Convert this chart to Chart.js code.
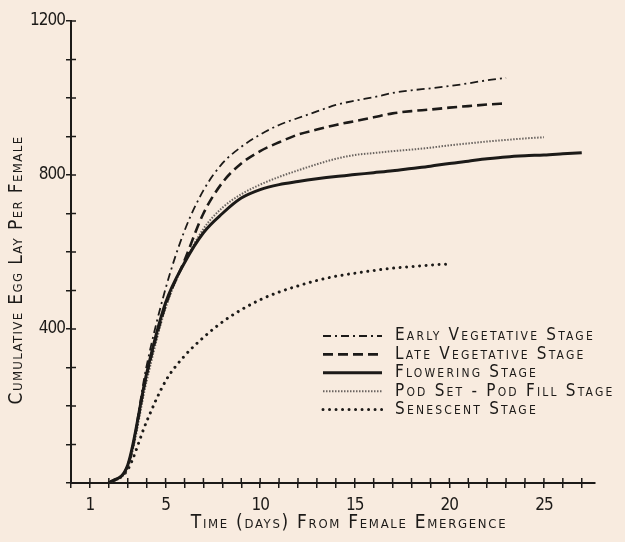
<!DOCTYPE html>
<html><head><meta charset="utf-8">
<script src="https://cdn.jsdelivr.net/npm/chart.js@4/dist/chart.umd.min.js"></script>
<style>html,body{margin:0;padding:0;background:#f8ebdf;overflow:hidden}#wrap{width:625px;height:542px}</style>
</head><body><div id="wrap"><canvas id="c" width="625" height="542"></canvas></div>
<script>
// ---- data ----
const startDay = 2;
const seriesNames = ["Early Vegetative Stage","Late Vegetative Stage","Flowering Stage","Pod Set - Pod Fill Stage","Senescent Stage"];
const earlyVeg  = [0,45,305,505,655,760,830,873,905,930,948,965,982,993,1002,1013,1020,1025,1031,1038,1046,1052];
const lateVeg   = [0,45,280,460,578,700,780,830,862,885,905,918,930,940,950,960,966,970,975,979,983,986];
const flowering = [0,47,285,468,572,650,700,740,762,775,783,790,796,801,806,811,817,823,830,836,842,847,850,852,855,858];
const podSet    = [0,40,265,455,572,660,715,750,775,795,812,828,842,852,857,862,866,871,877,882,887,891,895,898];
const senescent = [0,35,160,265,330,378,418,450,476,496,512,526,537,545,552,558,562,566,569];
const xTickLabels = [1,5,10,15,20,25];
const yTickLabels = [400,800,1200];
const xTitle = "Time (days) From Female Emergence";
const yTitle = "Cumulative Egg Lay Per Female";

const FAM = "'DejaVu Sans Condensed','DejaVu Sans',sans-serif";
const INK = '#1c1a18';
const toPts = arr => arr.map((v,i)=>({x:startDay+i,y:v}));

const styles = [
  {borderDash:[8,4,2,4], borderWidth:1.8, borderColor:INK, borderCapStyle:'butt'},
  {borderDash:[10,5], borderWidth:2.6, borderColor:INK, borderCapStyle:'butt'},
  {borderDash:[], borderWidth:3, borderColor:INK, borderCapStyle:'butt'},
  {borderDash:[1.5,1.5], borderWidth:2, borderColor:'#6a6460', borderCapStyle:'butt'},
  {borderDash:[0.01,6.5], borderWidth:3, borderColor:INK, borderCapStyle:'round'}
];
const seriesData = [earlyVeg, lateVeg, flowering, podSet, senescent];

const paperLegend = {
  id:'paperLegend',
  afterDraw(chart){
    const ctx = chart.ctx;
    const x0 = 323, x1 = 382, tx = 395, y0 = 336, dy = 18.4;
    chart.data.datasets.forEach((ds,i)=>{
      const y = y0 + i*dy;
      ctx.save();
      ctx.strokeStyle = ds.borderColor;
      ctx.lineWidth = ds.borderWidth;
      ctx.lineCap = ds.borderCapStyle;
      ctx.setLineDash(ds.borderDash);
      ctx.beginPath(); ctx.moveTo(x0,y); ctx.lineTo(x1,y); ctx.stroke();
      ctx.setLineDash([]);
      ctx.fillStyle = INK;
      ctx.font = "small-caps 17px " + FAM;
      ctx.letterSpacing = '2.2px';
      ctx.textBaseline = 'middle';
      ctx.fillText(ds.label, tx, y);
      ctx.restore();
    });
  }
};
const crossTicks = {
  id:'crossTicks',
  afterDraw(chart){
    const ctx = chart.ctx, a = chart.chartArea;
    ctx.save(); ctx.strokeStyle = INK; ctx.lineWidth = 1.5;
    const xs = chart.scales.x, ys = chart.scales.y;
    xs.ticks.forEach(t=>{ const p = xs.getPixelForValue(t.value); ctx.beginPath(); ctx.moveTo(p,a.bottom); ctx.lineTo(p,a.bottom-5); ctx.stroke(); });
    ys.ticks.forEach(t=>{ const p = ys.getPixelForValue(t.value); ctx.beginPath(); ctx.moveTo(a.left,p); ctx.lineTo(a.left+5,p); ctx.stroke(); });
    ctx.restore();
  }
};
// hand lettering of the original: widely spaced titles, narrow digits
const lettering = {
  id:'lettering',
  afterLayout(chart){
    Object.values(chart.scales).forEach(s=>{
      if (s._spaced) return;
      const isY = s.id === 'y';
      const origT = s.drawTitle, origL = s.drawLabels;
      s.drawTitle = function(){ const c = this.ctx; c.save(); c.letterSpacing = isY ? '1.4px' : '1.7px';
        if (isY) c.translate(0, 18); else c.translate(16, 0);
        origT.apply(this, arguments); c.restore(); };
      s.drawLabels = function(){ const c = this.ctx; c.save(); c.letterSpacing = '-1px'; origL.apply(this, arguments); c.restore(); };
      s._spaced = true;
    });
  }
};

new Chart(document.getElementById('c'), {
  type:'line',
  data:{ datasets: seriesData.map((d,i)=>Object.assign({label:seriesNames[i], data:toPts(d), pointRadius:0, fill:false, cubicInterpolationMode:'monotone'}, styles[i])) },
  options:{
    responsive:false, animation:false, devicePixelRatio:1,
    layout:{padding:{top:21,right:30,left:0,bottom:0}},
    plugins:{legend:{display:false}, tooltip:{enabled:false}},
    scales:{
      x:{type:'linear', min:0, max:27.7,
        afterFit(s){ s.height = 59; },
        ticks:{stepSize:1, includeBounds:false, autoSkip:false, maxRotation:0, padding:7, color:INK,
          font:{family:FAM, size:17},
          callback:v=> xTickLabels.includes(v) ? String(v) : ''},
        grid:{drawOnChartArea:false, drawTicks:true, tickLength:5, color:INK, lineWidth:1.5},
        border:{display:true, color:INK, width:2},
        title:{display:true, text:xTitle, color:INK, padding:{top:0,bottom:7.5}, font:{family:FAM, size:19, weight:'small-caps'}}
      },
      y:{min:0, max:1200,
        afterFit(s){ s.width = 71; },
        ticks:{stepSize:100, autoSkip:false, padding:1, color:INK, font:{family:FAM, size:17},
          callback:v=> yTickLabels.includes(v) ? String(v) : ''},
        grid:{drawOnChartArea:false, drawTicks:true, tickLength:5, color:INK, lineWidth:1.5},
        border:{display:true, color:INK, width:2},
        title:{display:true, text:yTitle, color:INK, padding:{top:6,bottom:0}, font:{family:FAM, size:19, weight:'small-caps'}}
      }
    }
  },
  plugins:[paperLegend, crossTicks, lettering]
});
</script></body></html>
